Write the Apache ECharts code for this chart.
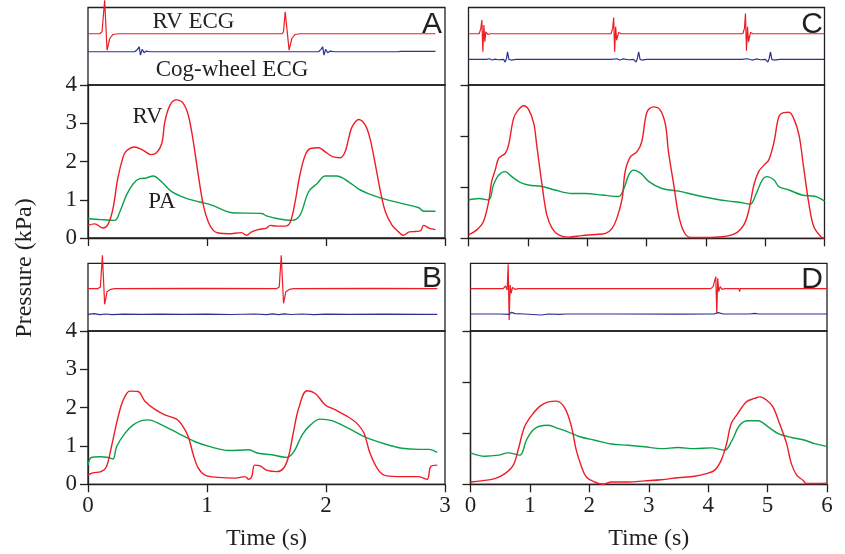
<!DOCTYPE html>
<html><head><meta charset="utf-8">
<script src="https://cdn.jsdelivr.net/npm/echarts@6/dist/echarts.min.js"></script>
<style>html,body{margin:0;padding:0;background:#fff}#c{width:845px;height:554px}</style>
</head><body><div id="c"></div>
<script>
// ---------- DATA (time in s, pressure in kPa, ECG in arbitrary units 0-10) ----------
const xTicksLeft = [0, 1, 2, 3];
const xTicksRight = [0, 1, 2, 3, 4, 5, 6];
const yTicksLeft = [0, 1, 2, 3, 4];

const rvA = [[0,0.33],[0.056,0.37],[0.126,0.26],[0.17,0.37],[0.21,0.77],[0.25,1.55],[0.295,2.12],[0.32,2.27],[0.39,2.38],[0.46,2.30],[0.53,2.18],[0.576,2.23],[0.62,2.47],[0.646,3.04],[0.69,3.48],[0.744,3.61],[0.80,3.52],[0.843,3.21],[0.885,2.52],[0.927,1.64],[0.969,0.86],[1.011,0.42],[1.053,0.20],[1.095,0.13],[1.18,0.11],[1.29,0.14],[1.33,0.07],[1.376,0.16],[1.43,0.22],[1.50,0.26],[1.53,0.33],[1.587,0.31],[1.657,0.31],[1.70,0.42],[1.74,0.94],[1.78,1.64],[1.826,2.17],[1.87,2.34],[1.94,2.36],[1.994,2.25],[2.06,2.12],[2.12,2.10],[2.16,2.25],[2.19,2.60],[2.22,2.91],[2.275,3.10],[2.33,2.95],[2.37,2.60],[2.416,1.90],[2.458,1.21],[2.5,0.68],[2.556,0.33],[2.61,0.16],[2.65,0.07],[2.70,0.16],[2.75,0.17],[2.795,0.19],[2.82,0.33],[2.865,0.26],[2.92,0.22]];
const paA = [[0,0.51],[0.11,0.48],[0.225,0.46],[0.267,0.68],[0.323,1.12],[0.38,1.42],[0.435,1.55],[0.49,1.57],[0.548,1.62],[0.618,1.47],[0.70,1.22],[0.815,1.05],[0.94,0.94],[1.04,0.86],[1.21,0.66],[1.46,0.64],[1.50,0.58],[1.587,0.51],[1.713,0.46],[1.78,0.59],[1.854,1.21],[1.924,1.42],[1.994,1.62],[2.09,1.62],[2.19,1.47],[2.275,1.28],[2.39,1.12],[2.5,1.01],[2.64,0.90],[2.78,0.79],[2.82,0.70],[2.92,0.70]];
const rvEcgA = [[0,6.61],[0.098,6.61],[0.118,6.87],[0.14,10.94],[0.16,4.5],[0.183,6.0],[0.21,6.52],[0.253,6.61],[1.63,6.61],[1.643,6.87],[1.657,9.44],[1.69,4.5],[1.713,6.0],[1.74,6.52],[1.78,6.61],[2.92,6.61]];
const cogEcgA = [[0,4.29],[0.15,4.29],[0.16,4.16],[0.17,4.29],[0.393,4.29],[0.416,4.59],[0.43,4.94],[0.441,3.86],[0.455,4.59],[0.472,4.16],[0.49,4.38],[0.52,4.29],[1.09,4.29],[1.1,4.45],[1.12,4.29],[1.69,4.29],[1.70,4.16],[1.72,4.29],[1.938,4.29],[1.958,4.59],[1.972,4.94],[1.983,3.86],[1.997,4.59],[2.014,4.16],[2.037,4.38],[2.07,4.29],[2.6,4.29],[2.61,4.42],[2.63,4.33],[2.92,4.33]];

const rvB = [[0,0.24],[0.04,0.30],[0.11,0.33],[0.155,0.46],[0.197,0.98],[0.24,1.59],[0.28,2.07],[0.31,2.29],[0.35,2.43],[0.42,2.42],[0.48,2.16],[0.56,1.96],[0.646,1.81],[0.744,1.70],[0.80,1.50],[0.843,1.24],[0.885,0.77],[0.927,0.42],[0.983,0.24],[1.095,0.18],[1.236,0.16],[1.32,0.20],[1.35,0.13],[1.376,0.20],[1.40,0.50],[1.447,0.48],[1.50,0.37],[1.587,0.33],[1.643,0.42],[1.685,0.72],[1.73,1.42],[1.77,1.98],[1.84,2.44],[1.91,2.37],[1.994,2.07],[2.08,1.94],[2.19,1.75],[2.26,1.59],[2.32,1.33],[2.37,0.81],[2.44,0.37],[2.51,0.22],[2.64,0.20],[2.78,0.20],[2.85,0.13],[2.88,0.46],[2.935,0.50]];
const paB = [[0,0.50],[0.028,0.70],[0.098,0.72],[0.17,0.70],[0.21,0.66],[0.24,0.98],[0.31,1.33],[0.38,1.55],[0.45,1.66],[0.506,1.68],[0.618,1.55],[0.758,1.33],[0.90,1.11],[1.04,0.97],[1.18,0.88],[1.35,0.90],[1.43,0.81],[1.545,0.77],[1.67,0.70],[1.73,0.85],[1.80,1.29],[1.87,1.55],[1.95,1.70],[2.05,1.66],[2.19,1.46],[2.33,1.23],[2.5,1.05],[2.64,0.94],[2.78,0.91],[2.865,0.91],[2.935,0.83]];
const rvEcgB = [[0,6.26],[0.084,6.26],[0.104,6.5],[0.121,11.2],[0.14,3.94],[0.16,5.81],[0.19,6.16],[0.225,6.26],[0.95,6.31],[1.587,6.26],[1.607,6.5],[1.624,11.2],[1.643,4.09],[1.663,5.81],[1.694,6.16],[1.728,6.26],[2.4,6.31],[2.935,6.26]];
const cogEcgB = [[0,2.46],[0.05,2.56],[0.1,2.41],[0.15,2.51],[0.2,2.43],[0.3,2.48],[0.45,2.46],[0.6,2.49],[0.8,2.46],[1.0,2.48],[1.2,2.44],[1.4,2.51],[1.5,2.41],[1.55,2.53],[1.6,2.42],[1.65,2.52],[1.7,2.44],[1.8,2.51],[1.9,2.43],[2.0,2.49],[2.2,2.46],[2.5,2.48],[2.8,2.45],[2.935,2.46]];

const rvC = [[0,0.09],[0.14,0.22],[0.25,0.43],[0.34,0.96],[0.39,1.48],[0.45,1.78],[0.51,2.09],[0.62,2.22],[0.675,2.43],[0.76,3.13],[0.84,3.35],[0.93,3.46],[1.01,3.37],[1.10,3.0],[1.15,2.43],[1.24,1.39],[1.32,0.61],[1.41,0.26],[1.52,0.09],[1.69,0.03],[1.91,0.07],[2.14,0.10],[2.31,0.13],[2.42,0.26],[2.50,0.52],[2.59,1.04],[2.64,1.74],[2.73,2.13],[2.84,2.26],[2.92,2.52],[3.01,3.30],[3.12,3.43],[3.23,3.35],[3.32,2.96],[3.37,2.26],[3.46,1.39],[3.54,0.61],[3.63,0.17],[3.74,0.02],[3.99,0.02],[4.27,0.04],[4.50,0.13],[4.64,0.35],[4.72,0.70],[4.81,1.39],[4.89,1.74],[4.98,1.91],[5.06,2.04],[5.15,2.52],[5.23,3.17],[5.31,3.28],[5.40,3.29],[5.48,3.13],[5.57,2.70],[5.65,1.83],[5.74,0.87],[5.82,0.30],[5.94,0.04],[6.0,0]];
const paC = [[0,1.0],[0.17,1.04],[0.34,1.0],[0.42,1.39],[0.51,1.65],[0.62,1.74],[0.73,1.61],[0.87,1.46],[1.01,1.39],[1.24,1.35],[1.46,1.26],[1.74,1.17],[1.97,1.17],[2.25,1.13],[2.53,1.09],[2.62,1.30],[2.70,1.65],[2.78,1.78],[2.90,1.70],[3.04,1.48],[3.26,1.30],[3.54,1.23],[3.82,1.13],[4.11,1.04],[4.39,0.97],[4.56,0.94],[4.75,0.89],[4.84,1.13],[4.95,1.52],[5.03,1.61],[5.15,1.52],[5.23,1.35],[5.40,1.26],[5.62,1.13],[5.85,1.09],[6.0,0.97]];
const rvEcgC = [[0,6.61],[0.18,6.61],[0.208,7.30],[0.225,8.37],[0.242,4.29],[0.259,7.73],[0.276,5.58],[0.292,6.87],[0.326,6.52],[0.366,6.61],[2.402,6.61],[2.43,7.30],[2.447,8.71],[2.463,4.29],[2.48,7.51],[2.497,5.79],[2.531,6.78],[2.576,6.61],[4.623,6.61],[4.651,7.30],[4.668,9.23],[4.685,4.42],[4.702,7.51],[4.719,5.58],[4.753,6.78],[4.792,6.61],[6.0,6.61]];
const cogEcgC = [[0,3.30],[0.3,3.30],[0.35,3.39],[0.4,3.22],[0.45,3.34],[0.5,3.26],[0.591,3.30],[0.619,2.96],[0.641,3.43],[0.658,4.29],[0.681,3.30],[0.72,3.22],[0.8,3.30],[2.4,3.30],[2.5,3.39],[2.55,3.22],[2.6,3.36],[2.7,3.26],[2.784,3.30],[2.823,2.96],[2.846,3.43],[2.868,4.29],[2.891,3.30],[2.925,3.22],[3.0,3.30],[4.6,3.30],[4.7,3.39],[4.78,3.22],[4.85,3.36],[4.92,3.26],[5.006,3.30],[5.045,2.96],[5.068,3.43],[5.09,4.29],[5.112,3.30],[5.146,3.22],[5.25,3.30],[6.0,3.30]];

const rvD = [[0,0.06],[0.185,0.09],[0.41,0.15],[0.58,0.28],[0.72,0.50],[0.80,0.89],[0.91,1.50],[1.03,1.80],[1.17,2.04],[1.31,2.15],[1.45,2.17],[1.59,1.98],[1.70,1.50],[1.78,0.89],[1.87,0.45],[1.95,0.19],[2.09,0.06],[2.23,0.0],[2.37,0.06],[2.65,0.06],[2.93,0.09],[3.21,0.12],[3.49,0.17],[3.77,0.21],[3.97,0.28],[4.11,0.37],[4.22,0.63],[4.31,1.06],[4.39,1.59],[4.50,1.85],[4.64,2.15],[4.78,2.24],[4.87,2.28],[4.98,2.20],[5.09,2.02],[5.20,1.59],[5.32,1.06],[5.40,0.54],[5.49,0.24],[5.60,0.10],[5.65,0.02],[5.85,0.02],[6.0,0.03]];
const paD = [[0,0.82],[0.24,0.73],[0.47,0.76],[0.63,0.82],[0.83,0.76],[0.94,1.15],[1.05,1.41],[1.17,1.52],[1.31,1.54],[1.47,1.46],[1.64,1.37],[1.84,1.24],[2.09,1.15],[2.37,1.05],[2.65,1.02],[2.93,0.98],[3.21,0.93],[3.49,0.96],[3.77,0.93],[4.05,0.95],[4.28,0.89],[4.39,1.11],[4.53,1.54],[4.67,1.66],[4.84,1.66],[5.01,1.50],[5.18,1.32],[5.40,1.22],[5.63,1.15],[5.79,1.06],[6.0,0.99]];
const rvEcgD = [[0,6.26],[0.55,6.26],[0.589,6.65],[0.617,6.06],[0.634,9.85],[0.651,1.63],[0.667,6.80],[0.684,5.57],[0.707,6.45],[0.746,6.16],[0.802,6.26],[1.17,6.26],[1.18,6.0],[1.19,6.26],[2.4,6.26],[2.42,6.45],[2.44,6.26],[4.044,6.26],[4.083,6.55],[4.111,6.80],[4.128,8.03],[4.145,2.61],[4.161,7.78],[4.178,5.81],[4.201,6.55],[4.234,6.16],[4.279,6.26],[4.52,6.26],[4.53,5.81],[4.54,6.26],[5.45,6.26],[5.46,6.4],[5.47,6.26],[6.0,6.26]];
const cogEcgD = [[0,2.51],[0.5,2.51],[0.65,2.46],[0.69,2.76],[0.75,2.56],[0.9,2.51],[1.2,2.36],[1.3,2.51],[1.5,2.46],[1.6,2.51],[2.5,2.51],[3.5,2.49],[4.1,2.51],[4.17,2.71],[4.25,2.51],[4.6,2.51],[4.62,2.36],[4.7,2.51],[4.78,2.61],[4.85,2.51],[6.0,2.51]];

// ---------- STYLE ----------
const RED = '#ee1c25', GREEN = '#0ba14b', BLUE = '#2e3192', INK = '#231f20';
const SERIF = '"Liberation Serif", "Times New Roman", serif';
const SANS = '"Liberation Sans", Arial, sans-serif';

const grids = [
  {left:88, top:7.5, width:357, height:77.5},     // 0 A ecg
  {left:88, top:85, width:357, height:153},       // 1 A pressure
  {left:88, top:263.3, width:357, height:67.7},   // 2 B ecg
  {left:88, top:331, width:357, height:153.3},    // 3 B pressure
  {left:468.5, top:7.5, width:356, height:77.5},  // 4 C ecg
  {left:468.5, top:85, width:356, height:153.3},  // 5 C pressure
  {left:470.5, top:263.3, width:356.5, height:67.7}, // 6 D ecg
  {left:470.5, top:331, width:356.5, height:153.3}   // 7 D pressure
].map(g => Object.assign({show:true, borderColor:INK, borderWidth:1.3, backgroundColor:'transparent', outerBoundsMode:'none', containLabel:false}, g));

function xAxis(gi, ticks, labels) {
  const ax = {type:'value', gridIndex:gi, min:ticks[0], max:ticks[ticks.length-1], interval:1,
    splitLine:{show:false}};
  if (gi % 2 === 0) {
    Object.assign(ax, {show:false});
  } else {
    Object.assign(ax, {
      axisLine:{show:true, onZero:false, lineStyle:{color:INK, width:1.3}},
      axisTick:{show:true, inside:false, length:8, lineStyle:{color:INK, width:1.3}},
      axisLabel:{show:labels, margin:10, color:INK, fontFamily:SERIF, fontSize:23, showMinLabel:true, showMaxLabel:true},
    });
    if (labels) Object.assign(ax, {name:'Time (s)', nameLocation:'middle', nameGap:42,
      nameTextStyle:{color:INK, fontFamily:SERIF, fontSize:24}});
  }
  return ax;
}
function yAxis(gi, interval, labels) {
  if (gi % 2 === 0) return {type:'value', gridIndex:gi, min:0, max:10, show:false, splitLine:{show:false}};
  return {type:'value', gridIndex:gi, min:0, max:4, interval:interval,
    splitLine:{show:false},
    axisLine:{show:true, lineStyle:{color:INK, width:1.3}},
    axisTick:{show:true, inside:false, length:8, lineStyle:{color:INK, width:1.3}},
    axisLabel:{show:labels, margin:11, color:INK, fontFamily:SERIF, fontSize:23, showMinLabel:true, showMaxLabel:true}};
}

const xAxes = [
  xAxis(0, xTicksLeft, false), xAxis(1, xTicksLeft, false),
  xAxis(2, xTicksLeft, false), xAxis(3, xTicksLeft, true),
  xAxis(4, xTicksRight, false), xAxis(5, xTicksRight, false),
  xAxis(6, xTicksRight, false), xAxis(7, xTicksRight, true)
];
const yAxes = [
  yAxis(0), yAxis(1, 1, true), yAxis(2), yAxis(3, 1, true),
  yAxis(4), yAxis(5, 4/3, false), yAxis(6), yAxis(7, 4/3, false)
];

function line(idx, data, color, smooth, w) {
  return {type:'line', xAxisIndex:idx, yAxisIndex:idx, data:data, symbol:'none',
    smooth:smooth ? 0.35 : false, clip:false, silent:true, animation:false,
    lineStyle:{color:color, width:w || 1.4}};
}
const series = [
  line(0, rvEcgA, RED, false, 1.2), line(0, cogEcgA, BLUE, false, 1.2),
  line(1, paA, GREEN, true), line(1, rvA, RED, true),
  line(2, rvEcgB, RED, false, 1.2), line(2, cogEcgB, BLUE, false, 1.2),
  line(3, paB, GREEN, true), line(3, rvB, RED, true),
  line(4, rvEcgC, RED, false, 1.2), line(4, cogEcgC, BLUE, false, 1.2),
  line(5, paC, GREEN, true), line(5, rvC, RED, true),
  line(6, rvEcgD, RED, false, 1.2), line(6, cogEcgD, BLUE, false, 1.2),
  line(7, paD, GREEN, true), line(7, rvD, RED, true)
];

function txt(x, y, s, font, align, rot) {
  return {type:'text', x:x, y:y, rotation:rot || 0, z:100,
    style:{text:s, font:font, fill:INK, align:align || 'center', verticalAlign:'middle'}};
}
const graphic = [
  txt(193.5, 21.5, 'RV ECG', '23px ' + SERIF),
  txt(232, 69.5, 'Cog-wheel ECG', '23px ' + SERIF),
  txt(147.5, 117, 'RV', '23px ' + SERIF),
  txt(162, 202, 'PA', '23px ' + SERIF),
  txt(442, 24.5, 'A', '30px ' + SANS, 'right'),
  txt(442, 278.5, 'B', '30px ' + SANS, 'right'),
  txt(823, 25, 'C', '30px ' + SANS, 'right'),
  txt(823, 280, 'D', '30px ' + SANS, 'right'),
  txt(25, 268, 'Pressure (kPa)', '24px ' + SERIF, 'center', Math.PI/2)
];

const chart = echarts.init(document.getElementById('c'), null, {renderer:'canvas'});
chart.setOption({animation:false, backgroundColor:'#fff', grid:grids, xAxis:xAxes, yAxis:yAxes, series:series, graphic:graphic});
</script></body></html>
